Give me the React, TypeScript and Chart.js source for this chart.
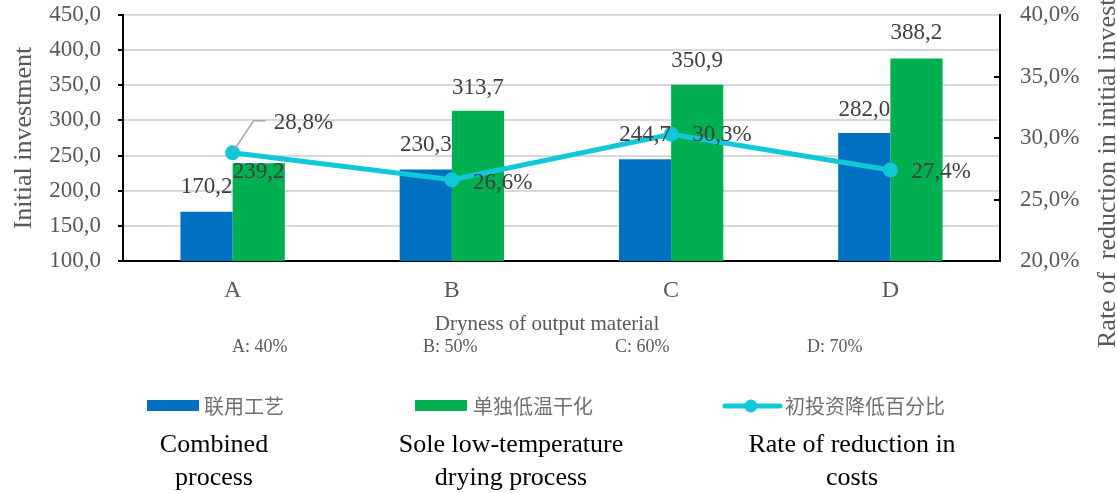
import React, { useEffect, useRef } from "react";
import { Chart, registerables } from "chart.js";

Chart.register(...registerables);

// ---------- data ----------
const categories = ["A", "B", "C", "D"];
const drynessLabels = ["A: 40%", "B: 50%", "C: 60%", "D: 70%"];
const combinedProcess = [170.2, 230.3, 244.7, 282.0];
const soleLowTemp = [239.2, 313.7, 350.9, 388.2];
const reductionRate = [28.8, 26.6, 30.3, 27.4];
const seriesNamesCn = ["联用工艺", "单独低温干化", "初投资降低百分比"];
const seriesNamesEn = [
  ["Combined", "process"],
  ["Sole low-temperature", "drying process"],
  ["Rate of reduction in", "costs"],
];
const leftTitle = "Initial investment";
const rightTitle = "Rate of  reduction in initial investment";
const xTitle = "Dryness of output material";
const leftMin = 100;
const leftMax = 450;
const leftStep = 50;
const rightMin = 20;
const rightMax = 40;
const rightStep = 5;

// ---------- label placement (layout only) ----------
const blueLabelDy = [-25, -24, -24, -23];
const greenLabelDy = [9, -23, -24, -25];
const lineLabelDx = [41, 21, 21, 21];
const lineLabelDy = [-30, 3, 1, 2];
const drynessX = [232, 423, 615, 807];
const legendX = [147, 415, 725];
const legendTextX = [204, 473, 785];
const enCenterX = [214, 511, 852];

const SERIF = "'Times New Roman', 'Liberation Serif', serif";
const CJK = "'Noto Sans CJK SC', sans-serif";
const BLUE = "#0070C0";
const GREEN = "#00B050";
const CYAN = "#10C8DA";
const GRAY = "#595959";

const fmt1 = (v: number) => v.toFixed(1).replace(".", ",");

const overlayPlugin = {
  id: "overlay",
  afterDatasetsDraw(chart: any) {
    const ctx = chart.ctx as CanvasRenderingContext2D;
    const yR = chart.scales.y1;
    ctx.save();
    // inner tick marks on right axis
    ctx.strokeStyle = "#000";
    ctx.lineWidth = 2;
    for (let v = rightMin + rightStep; v < rightMax; v += rightStep) {
      const py = Math.round(yR.getPixelForValue(v));
      ctx.beginPath();
      ctx.moveTo(yR.left - 6, py);
      ctx.lineTo(yR.left, py);
      ctx.stroke();
    }
    // bar labels
    ctx.font = `23px ${SERIF}`;
    ctx.fillStyle = "#404040";
    ctx.textBaseline = "middle";
    ctx.textAlign = "center";
    const m0 = chart.getDatasetMeta(0);
    const m1 = chart.getDatasetMeta(1);
    const m2 = chart.getDatasetMeta(2);
    m0.data.forEach((b: any, i: number) => {
      ctx.fillText(fmt1(combinedProcess[i]), b.x, b.y + blueLabelDy[i]);
    });
    m1.data.forEach((b: any, i: number) => {
      ctx.fillText(fmt1(soleLowTemp[i]), b.x, b.y + greenLabelDy[i]);
    });
    // line labels
    ctx.textAlign = "left";
    m2.data.forEach((p: any, i: number) => {
      ctx.fillText(fmt1(reductionRate[i]) + "%", p.x + lineLabelDx[i], p.y + lineLabelDy[i]);
    });
    // leader line for first point label
    const p0 = m2.data[0];
    ctx.strokeStyle = "#A6A6A6";
    ctx.lineWidth = 1.5;
    ctx.beginPath();
    ctx.moveTo(p0.x + 1, p0.y - 2);
    ctx.lineTo(p0.x + 21, p0.y - 32);
    ctx.lineTo(p0.x + 33, p0.y - 32);
    ctx.stroke();
    ctx.restore();
  },
  afterDraw(chart: any) {
    const ctx = chart.ctx as CanvasRenderingContext2D;
    const area = chart.chartArea;
    ctx.save();
    // axis titles
    ctx.fillStyle = GRAY;
    ctx.font = `26px ${SERIF}`;
    ctx.textBaseline = "alphabetic";
    ctx.save();
    ctx.translate(31, (area.top + area.bottom) / 2);
    ctx.rotate(-Math.PI / 2);
    ctx.textAlign = "center";
    ctx.fillText(leftTitle, 0, 0);
    ctx.restore();
    ctx.save();
    ctx.translate(1115, 348);
    ctx.rotate(-Math.PI / 2);
    ctx.textAlign = "left";
    ctx.fillText(rightTitle, 0, 0);
    ctx.restore();
    // x title
    ctx.textAlign = "center";
    ctx.textBaseline = "middle";
    ctx.font = `21px ${SERIF}`;
    ctx.fillText(xTitle, 547, 324);
    // dryness labels
    ctx.textAlign = "left";
    ctx.font = `18px ${SERIF}`;
    drynessLabels.forEach((t, i) => ctx.fillText(t, drynessX[i], 347));
    // legend
    const ly = 406;
    ctx.fillStyle = BLUE;
    ctx.fillRect(legendX[0], ly - 6, 52, 11);
    ctx.fillStyle = GREEN;
    ctx.fillRect(legendX[1], ly - 6, 52, 11);
    ctx.strokeStyle = CYAN;
    ctx.lineWidth = 5;
    ctx.lineCap = "round";
    ctx.beginPath();
    ctx.moveTo(legendX[2], ly);
    ctx.lineTo(legendX[2] + 55, ly);
    ctx.stroke();
    ctx.fillStyle = CYAN;
    ctx.beginPath();
    ctx.arc(legendX[2] + 26, ly, 6.5, 0, Math.PI * 2);
    ctx.fill();
    ctx.fillStyle = "#707070";
    ctx.font = `20px ${CJK}`;
    ctx.textAlign = "left";
    seriesNamesCn.forEach((t, i) => ctx.fillText(t, legendTextX[i], ly));
    // english legend text
    ctx.fillStyle = "#000";
    ctx.font = `26px ${SERIF}`;
    ctx.textAlign = "center";
    seriesNamesEn.forEach((lines, i) => {
      ctx.fillText(lines[0], enCenterX[i], 445);
      ctx.fillText(lines[1], enCenterX[i], 478);
    });
    ctx.restore();
  },
};

export default function App() {
  const ref = useRef<HTMLCanvasElement | null>(null);
  useEffect(() => {
    if (!ref.current) return;
    const chart = new Chart(ref.current, {
      type: "bar",
      data: {
        labels: categories,
        datasets: [
          {
            type: "bar",
            label: seriesNamesCn[0],
            data: combinedProcess,
            backgroundColor: BLUE,
            yAxisID: "y",
            order: 2,
            categoryPercentage: 0.476,
            barPercentage: 1,
          },
          {
            type: "bar",
            label: seriesNamesCn[1],
            data: soleLowTemp,
            backgroundColor: GREEN,
            yAxisID: "y",
            order: 2,
            categoryPercentage: 0.476,
            barPercentage: 1,
          },
          {
            type: "line",
            label: seriesNamesCn[2],
            data: reductionRate,
            borderColor: CYAN,
            backgroundColor: CYAN,
            borderWidth: 5,
            pointRadius: 7.5,
            pointBorderWidth: 0,
            pointBackgroundColor: CYAN,
            yAxisID: "y1",
            order: 0,
            tension: 0,
          } as any,
        ],
      },
      options: {
        responsive: false,
        animation: false,
        devicePixelRatio: 1,
        layout: { padding: { top: 15, left: 0, right: 0, bottom: 0 } },
        plugins: { legend: { display: false }, tooltip: { enabled: false } },
        scales: {
          x: {
            grid: { drawOnChartArea: false, drawTicks: false },
            border: { color: "#000", width: 2 },
            ticks: { font: { family: SERIF, size: 24 }, color: GRAY, padding: 15 },
            afterFit: (s: any) => {
              s.height = 232;
              s.paddingLeft = 0;
              s.paddingRight = 0;
            },
          },
          y: {
            position: "left",
            min: leftMin,
            max: leftMax,
            ticks: {
              stepSize: leftStep,
              font: { family: SERIF, size: 23 },
              color: GRAY,
              padding: 17,
              callback: (v: any) => fmt1(Number(v)),
            },
            grid: { color: "#D9D9D9", lineWidth: 2, tickLength: 5, tickColor: "#000", tickWidth: 2 },
            border: { color: "#000", width: 2 },
            afterFit: (s: any) => {
              s.width = 123;
              s.paddingTop = 0;
              s.paddingBottom = 0;
            },
          },
          y1: {
            position: "right",
            min: rightMin,
            max: rightMax,
            ticks: {
              stepSize: rightStep,
              font: { family: SERIF, size: 23 },
              color: GRAY,
              padding: 20,
              callback: (v: any) => fmt1(Number(v)) + "%",
            },
            grid: { drawOnChartArea: false, drawTicks: false },
            border: { color: "#000", width: 2 },
            afterFit: (s: any) => {
              s.width = 117;
              s.paddingTop = 0;
              s.paddingBottom = 0;
            },
          },
        },
      } as any,
      plugins: [overlayPlugin],
    });
    return () => chart.destroy();
  }, []);
  return (
    <div style={{ position: "absolute", left: 0, top: 0, width: 1117, height: 493, background: "#fff" }}>
      <canvas ref={ref} width={1117} height={493} style={{ display: "block" }} />
    </div>
  );
}
